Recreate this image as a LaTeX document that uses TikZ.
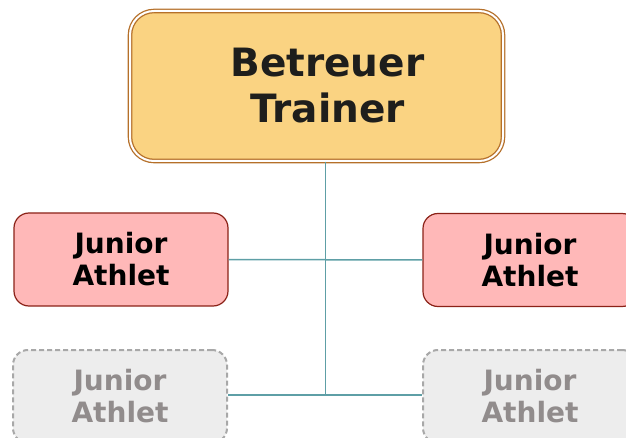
\documentclass[tikz,border=0pt]{standalone}
\usepackage{fontspec}
\setmainfont{DejaVu Sans}
\definecolor{topfill}{HTML}{FAD382}
\definecolor{topdraw}{HTML}{B5702A}
\definecolor{toptext}{HTML}{1E1E1C}
\definecolor{pinkfill}{HTML}{FFB8B8}
\definecolor{pinkdraw}{HTML}{8B2218}
\definecolor{grayfill}{HTML}{EDEDED}
\definecolor{graydraw}{HTML}{A8A8A8}
\definecolor{graytext}{HTML}{918C8C}
\definecolor{conn}{HTML}{5E9FA6}
\begin{document}
\begin{tikzpicture}[x=1pt,y=-1pt,
  topbox/.style={draw=topdraw, double=white, double distance=2pt, line width=1.3pt,
    fill=topfill, rounded corners=24pt, minimum width=373pt, minimum height=150pt,
    align=center, text=toptext, font=\bfseries\fontsize{39}{46}\selectfont, inner sep=0pt},
  jrbox/.style={draw=pinkdraw, line width=1.2pt, fill=pinkfill, rounded corners=15pt,
    minimum width=214pt, minimum height=93pt, align=center, text=black,
    font=\bfseries\fontsize{28}{32}\selectfont, inner sep=0pt},
  ghostbox/.style={draw=graydraw, dashed, dash pattern=on 5pt off 3pt, line width=2pt,
    fill=grayfill, rounded corners=15pt, minimum width=214pt, minimum height=93pt,
    align=center, text=graytext, font=\bfseries\fontsize{28}{32}\selectfont, inner sep=0pt},
  link/.style={draw=conn, line width=1.5pt}]
\useasboundingbox (0,0) rectangle (626,438);
\node[topbox] (top) at (316.5,86) {\hspace*{22pt}Betreuer\\\hspace*{22pt}Trainer};
\node[jrbox] (jl) at (121,259.5) {Junior\\Athlet};
\node[jrbox] (jr) at (530,260) {Junior\\Athlet};
\node[ghostbox] (gl) at (120,396.5) {Junior\\Athlet};
\node[ghostbox] (gr) at (530,396.5) {Junior\\Athlet};
\coordinate (hub) at (325.5,260);
\coordinate (foot) at (325.5,395);
\draw[link] (top.south -| hub) -- (foot);
\draw[link] (jl.east) -- (jr.west);
\draw[link] (gl.east |- foot) -- (gr.west |- foot);
\end{tikzpicture}
\end{document}
